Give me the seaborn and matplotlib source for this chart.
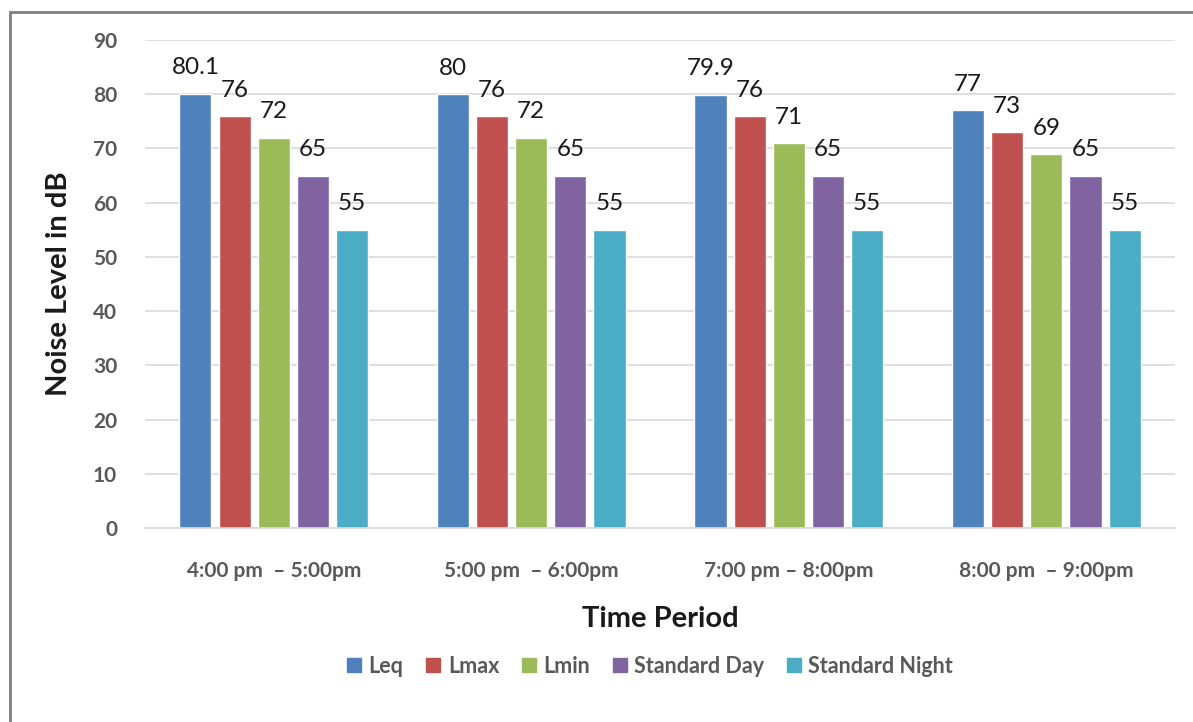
import matplotlib
matplotlib.use("Agg")
import matplotlib.pyplot as plt
from matplotlib.patches import Rectangle
from matplotlib.lines import Line2D
import seaborn as sns
import pandas as pd

periods = ["4:00 pm  \u2013 5:00pm", "5:00 pm  \u2013 6:00pm",
           "7:00 pm \u2013 8:00pm", "8:00 pm  \u2013 9:00pm"]
series = ["Leq", "Lmax", "Lmin", "Standard Day", "Standard Night"]
leq = [80.1, 80, 79.9, 77]
lmax = [76, 76, 76, 73]
lmin = [72, 72, 71, 69]
std_day = [65, 65, 65, 65]
std_night = [55, 55, 55, 55]
colors = ["#4F81BD", "#C0504D", "#9BBB59", "#8064A2", "#4BACC6"]

values = [leq, lmax, lmin, std_day, std_night]
df = pd.DataFrame(
    [(p, s, v) for s, vals in zip(series, values) for p, v in zip(periods, vals)],
    columns=["period", "series", "level"],
)

sns.set_theme(style="white")
plt.rcParams["font.family"] = ["Lato", "DejaVu Sans"]

fig = plt.figure(figsize=(11.93, 7.22), dpi=100)
ax = fig.add_axes([0.1215, 0.2687, 0.8635, 0.676])

sns.barplot(data=df, x="period", y="level", hue="series", order=periods,
            hue_order=series, palette=colors, width=0.76, gap=0.18,
            saturation=1, errorbar=None, legend=False, ax=ax)

for container in ax.containers:
    ax.bar_label(container, fmt="%g", padding=11, fontsize=17.5, color="#1a1a1a")

ax.set_ylim(0, 90)
ax.set_xlim(-0.5, 3.5)
ax.set_yticks(range(0, 91, 10))
ax.yaxis.grid(True, color="#D9D9D9", linewidth=1.2)
ax.set_axisbelow(True)
for side in ["top", "right", "left"]:
    ax.spines[side].set_visible(False)
ax.spines["bottom"].set_color("#D9D9D9")
ax.spines["bottom"].set_linewidth(1.2)
ax.tick_params(axis="both", length=0)
ax.tick_params(axis="y", pad=20, labelsize=15, labelcolor="#595959")
ax.tick_params(axis="x", pad=24, labelsize=15, labelcolor="#595959")
for lbl in ax.get_xticklabels() + ax.get_yticklabels():
    lbl.set_fontweight("bold")

ax.set_xlabel("Time Period", fontsize=21, fontweight="bold", color="#1a1a1a",
              labelpad=18)
ax.set_ylabel("Noise Level in dB", fontsize=21, fontweight="bold", color="#1a1a1a",
              labelpad=15)

handles = [Line2D([], [], marker="s", linestyle="none", markersize=9.5,
                  markerfacecolor=c, markeredgecolor=c) for c in colors]
leg = fig.legend(handles, series, loc="center", bbox_to_anchor=(0.545, 0.077),
                 ncol=5, frameon=False, handlelength=0.65, handletextpad=0.35,
                 columnspacing=1.05, prop={"size": 15.5, "weight": "bold"})
for t in leg.get_texts():
    t.set_color("#595959")

fig.patches.append(Rectangle((10 / 1193, -0.05), 1.2, 1 - 12 / 722 + 0.05,
                             transform=fig.transFigure, fill=False,
                             edgecolor="#7f7f7f", linewidth=2))

fig.savefig("out.png", dpi=100)
